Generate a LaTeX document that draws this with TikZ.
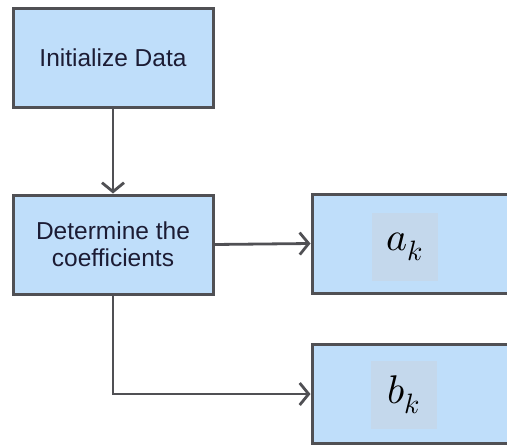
\documentclass[tikz,border=0pt]{standalone}
\usepackage{fontspec}
\usepackage{unicode-math}
\setmainfont{Liberation Sans}
\setmathfont{Latin Modern Math}
\usetikzlibrary{arrows.meta}
\definecolor{boxfill}{RGB}{191,222,250}
\definecolor{boxline}{RGB}{80,80,84}
\definecolor{symfill}{RGB}{196,216,236}
\definecolor{textink}{RGB}{28,28,52}
\tikzset{
  stepbox/.style={draw=boxline, fill=boxfill, line width=3pt, inner sep=0pt,
    minimum width=200pt, minimum height=99pt, text=textink, align=center,
    font=\fontsize{24.5}{27}\selectfont},
  outbox/.style={draw=boxline, fill=boxfill, line width=3pt, inner sep=0pt,
    minimum width=208pt, minimum height=99pt},
  symbox/.style={fill=symfill, inner sep=0pt, minimum width=66pt, minimum height=68pt,
    text=black, font=\fontsize{40}{44}\selectfont},
  flow/.style={draw=boxline, line width=2.8pt,
    -{Straight Barb[length=9pt, width=22pt]}}
}
\begin{document}
\begin{tikzpicture}[x=1pt, y=-1pt]
  \useasboundingbox (0,0) rectangle (507,447);
  % process boxes
  \node[stepbox] (init) at (113,57.5) {Initialize Data};
  \node[stepbox] (coef) at (113,244.5) {Determine the\\coefficients};
  % result boxes running off the right edge
  \node[outbox] (ak) at (416,243.5) {};
  \node[outbox] (bk) at (416,394) {};
  \node[symbox] (aksym) at (404.5,247) {$a_k$};
  \node[symbox] (bksym) at (404,395) {$b_k$};
  % connectors
  \draw[flow] (init.south) -- (coef.north);
  \draw[flow] (coef.east) -- (ak.west);
  \draw[flow] (coef.south) |- (bk.west);
\end{tikzpicture}
\end{document}
